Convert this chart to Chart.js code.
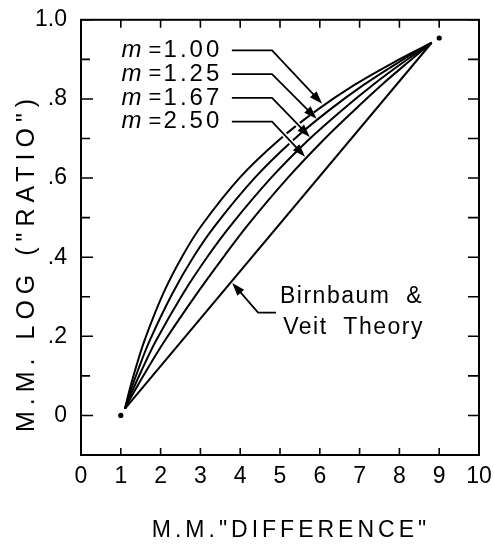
<!DOCTYPE html>
<html><head><meta charset="utf-8">
<script src="https://cdn.jsdelivr.net/npm/chart.js@4.4.1/dist/chart.umd.min.js"></script>
<style>html,body{margin:0;padding:0;background:#fff;}canvas{display:block;}</style>
</head><body>
<canvas id="c" width="494" height="552"></canvas>
<script>
// ---- data ----
const seriesLabels = ['m =1.00', 'm =1.25', 'm =1.67', 'm =2.50'];
const curveY = [0.017, 0.057, 0.111, 0.188, 0.309, 0.403, 0.480, 0.601, 0.695, 0.771, 0.836, 0.892, 0.942];
const xM100  = [1.105, 1.20, 1.35, 1.59, 2.07, 2.55, 3.03, 3.99, 4.96, 5.92, 6.88, 7.85, 8.81];
const xM125  = [1.105, 1.23, 1.42, 1.72, 2.30, 2.84, 3.37, 4.37, 5.32, 6.23, 7.11, 7.97, 8.81];
const xM167  = [1.105, 1.27, 1.51, 1.88, 2.57, 3.19, 3.76, 4.78, 5.70, 6.55, 7.34, 8.09, 8.81];
const xM250  = [1.105, 1.32, 1.63, 2.10, 2.92, 3.60, 4.18, 5.20, 6.08, 6.86, 7.56, 8.21, 8.81];
const theoryLabel = 'Birnbaum & Veit Theory';
const theoryX = [1.105, 8.81];
const theoryY = [0.017, 0.942];
const endDotX = [1, 9];
const endDotY = [0, 0.954];
const xTickValues = [0, 1, 2, 3, 4, 5, 6, 7, 8, 9, 10];
const xTickLabels = ['0', '1', '2', '3', '4', '5', '6', '7', '8', '9', '10'];
const yTickValues = [0, 0.2, 0.4, 0.6, 0.8, 1.0];
const yTickLabels = ['0', '.2', '.4', '.6', '.8', '1.0'];
const xTitle = 'M.M."DIFFERENCE"';
const yTitle = 'M.M. LOG ("RATIO")';

const FONT = '"Liberation Sans", Arial, sans-serif';
Chart.defaults.font.family = FONT;
Chart.defaults.color = '#000';

const pts = (xs, ys) => xs.map((x, i) => ({x: x, y: ys[i]}));
const curveStyle = {showLine: true, borderColor: '#000', borderWidth: 2, pointRadius: 0, tension: 0.35, fill: false};

// annotation layout (data units)
const labelRows = [0.9225, 0.8625, 0.8025, 0.7425];
const labelNums = ['1.00', '1.25', '1.67', '2.50'];
const leaderTips = [[6.06, 0.788], [5.92, 0.750], [5.75, 0.704], [5.63, 0.654]];

function arrowHead(ctx, fx, fy, tx, ty, L, W) {
  const dx = tx - fx, dy = ty - fy, d = Math.hypot(dx, dy);
  const ux = dx / d, uy = dy / d;
  const bx = tx - ux * L, by = ty - uy * L;
  ctx.beginPath();
  ctx.moveTo(tx, ty);
  ctx.lineTo(bx - uy * W, by + ux * W);
  ctx.lineTo(bx + uy * W, by - ux * W);
  ctx.closePath();
  ctx.fill();
}
function leader(ctx, P) {
  const n = P.length;
  const [ax, ay] = P[n - 2], [tx, ty] = P[n - 1];
  const d = Math.hypot(tx - ax, ty - ay);
  const ex = tx - (tx - ax) / d * 6, ey = ty - (ty - ay) / d * 6;
  ctx.save();
  ctx.strokeStyle = '#fff'; ctx.lineWidth = 5; ctx.lineCap = 'butt';
  ctx.beginPath(); ctx.moveTo(P[0][0], P[0][1]);
  for (let i = 1; i < n - 1; i++) ctx.lineTo(P[i][0], P[i][1]);
  ctx.lineTo(ex, ey); ctx.stroke();
  ctx.strokeStyle = '#000'; ctx.lineWidth = 1.8; ctx.lineJoin = 'miter';
  ctx.beginPath(); ctx.moveTo(P[0][0], P[0][1]);
  for (let i = 1; i < n - 1; i++) ctx.lineTo(P[i][0], P[i][1]);
  ctx.lineTo(tx - (tx - ax) / d * 8, ty - (ty - ay) / d * 8); ctx.stroke();
  ctx.fillStyle = '#000';
  arrowHead(ctx, ax, ay, tx, ty, 13, 4.5);
  ctx.restore();
}

const decor = {
  id: 'decor',
  beforeDraw(chart) {
    const xs = chart.scales.x, ys = chart.scales.y;
    if (!xs._ls) {
      const ox = xs.drawTitle;
      xs.drawTitle = function () { const c = this.ctx; c.save(); c.letterSpacing = '4px'; c.translate(11, 0); ox.call(this); c.restore(); };
      xs._ls = true;
    }
    if (!ys._ls) {
      const oy = ys.drawTitle;
      ys.drawTitle = function () { const c = this.ctx; c.save(); c.letterSpacing = '6px'; c.translate(0, 25); oy.call(this); c.restore(); };
      ys._ls = true;
    }
  },
  afterDatasetsDraw(chart) {
    const {ctx, chartArea: a, scales: {x, y}} = chart;
    const X = v => x.getPixelForValue(v), Y = v => y.getPixelForValue(v);
    ctx.save();
    ctx.strokeStyle = '#000'; ctx.lineWidth = 2;
    ctx.strokeRect(a.left, a.top, a.right - a.left, a.bottom - a.top);
    ctx.lineWidth = 1.6;
    ctx.beginPath();
    for (let k = -1; k <= 10; k++) {
      const py = Y(k / 10);
      const major = k >= 0 && k % 2 === 0;
      ctx.moveTo(a.left, py); ctx.lineTo(a.left + (major ? 12 : 9), py);
      ctx.moveTo(a.right, py); ctx.lineTo(a.right - 11, py);
    }
    for (let k = 1; k <= 9; k++) {
      const px = X(k);
      ctx.moveTo(px, a.top); ctx.lineTo(px, a.top + 8);
      ctx.moveTo(px, a.bottom); ctx.lineTo(px, a.bottom - 7);
    }
    ctx.stroke();

    for (let i = 0; i < 4; i++) {
      const ry = Y(labelRows[i]);
      const [tx, ty] = leaderTips[i];
      leader(ctx, [[X(3.79), ry], [X(4.80), ry], [X(tx), Y(ty)]]);
      ctx.fillStyle = '#000';
      ctx.textBaseline = 'middle';
      ctx.font = 'italic 24px ' + FONT;
      ctx.textAlign = 'left';
      ctx.fillText('m', X(1.02), ry);
      ctx.font = '22px ' + FONT;
      ctx.textAlign = 'center';
      ctx.fillText('=', X(1.86), ry);
      ctx.font = '24px ' + FONT;
      ctx.textAlign = 'right';
      ctx.letterSpacing = '3px';
      ctx.fillText(labelNums[i], X(3.55), ry);
      ctx.letterSpacing = '0px';
    }
    leader(ctx, [[X(4.90), Y(0.26)], [X(4.45), Y(0.26)], [X(3.80), Y(0.335)]]);
    ctx.fillStyle = '#000';
    ctx.font = '23px ' + FONT;
    ctx.textAlign = 'left';
    ctx.textBaseline = 'middle';
    ctx.letterSpacing = '1.5px';
    ctx.fillText('Birnbaum  &', X(5.0), Y(0.30));
    ctx.fillText('Veit  Theory', X(5.08), Y(0.2225));
    ctx.letterSpacing = '0px';
    ctx.restore();
  }
};

new Chart(document.getElementById('c'), {
  type: 'scatter',
  data: {
    datasets: [
      Object.assign({label: seriesLabels[0], data: pts(xM100, curveY)}, curveStyle),
      Object.assign({label: seriesLabels[1], data: pts(xM125, curveY)}, curveStyle),
      Object.assign({label: seriesLabels[2], data: pts(xM167, curveY)}, curveStyle),
      Object.assign({label: seriesLabels[3], data: pts(xM250, curveY)}, curveStyle),
      Object.assign({label: theoryLabel, data: pts(theoryX, theoryY)}, curveStyle, {tension: 0}),
      {label: 'end points', data: pts(endDotX, endDotY), showLine: false, pointRadius: 2.6,
       pointBackgroundColor: '#000', pointBorderColor: '#000', pointBorderWidth: 0}
    ]
  },
  options: {
    responsive: false,
    animation: false,
    devicePixelRatio: 1,
    layout: {padding: {top: 15, right: 15, bottom: 0, left: 0}},
    plugins: {legend: {display: false}, tooltip: {enabled: false}},
    scales: {
      x: {
        type: 'linear', position: 'bottom', min: 0, max: 10,
        grid: {display: false}, border: {display: false},
        afterBuildTicks: s => { s.ticks = xTickValues.map(v => ({value: v})); },
        afterFit: s => { s.height = 97; },
        ticks: {font: {size: 23}, color: '#000', padding: 0, maxRotation: 0, autoSkip: false,
                callback: (v, i) => xTickLabels[i]},
        title: {display: true, text: xTitle, color: '#000', font: {size: 23}, padding: {top: 0, bottom: 8}}
      },
      y: {
        type: 'linear', position: 'left', min: -0.1, max: 1.0,
        grid: {display: false}, border: {display: false},
        afterBuildTicks: s => { s.ticks = yTickValues.map(v => ({value: v})); },
        afterFit: s => { s.width = 81; },
        ticks: {font: {size: 23}, color: '#000', padding: 6, autoSkip: false,
                callback: (v, i) => yTickLabels[i]},
        title: {display: true, text: yTitle, color: '#000', font: {size: 25}, padding: {top: 12, bottom: 0}}
      }
    }
  },
  plugins: [decor]
});
</script>
</body></html>
